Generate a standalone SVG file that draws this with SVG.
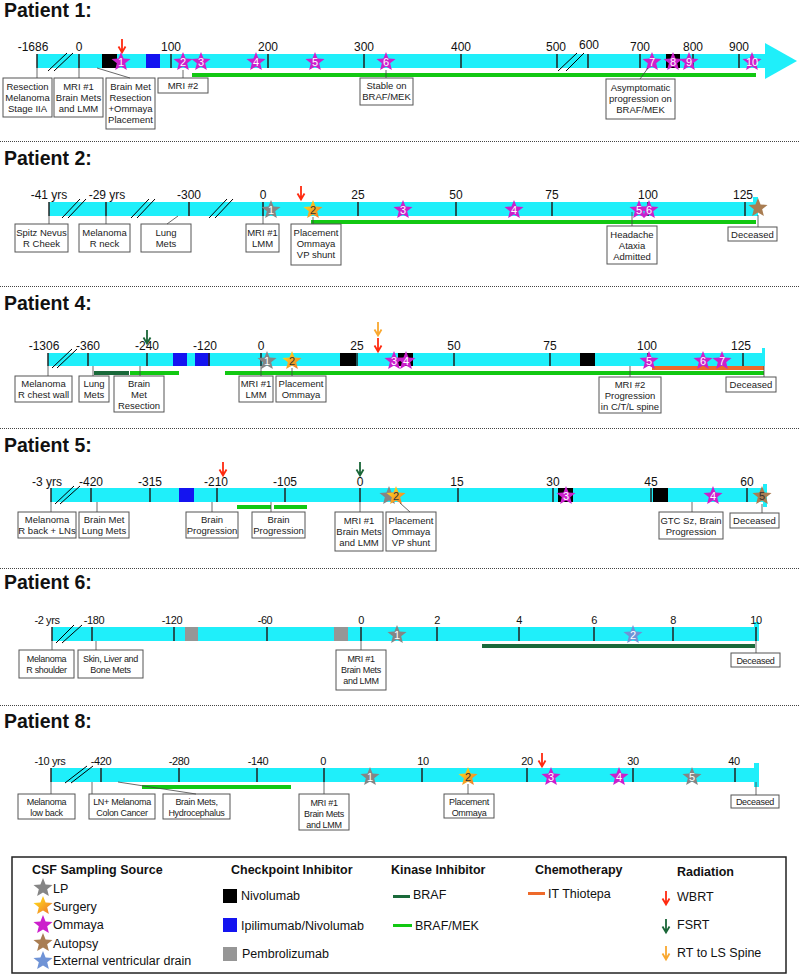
<svg xmlns="http://www.w3.org/2000/svg" width="800" height="974" viewBox="0 0 800 974">
<style>
text{font-family:"Liberation Sans",Arial,sans-serif;fill:#111}
.title{font-size:19.5px;font-weight:bold}
.tk{font-size:12px;text-anchor:middle}
.tkn{font-size:11px;text-anchor:middle;letter-spacing:-0.4px}
.lb{font-size:9.5px;text-anchor:middle;fill:#222}
.lbn{font-size:9px;text-anchor:middle;fill:#222;letter-spacing:-0.3px}
.box{fill:#fff;stroke:#555;stroke-width:1}
.bar{fill:#1FEFFA}
.tick{stroke:#222;stroke-width:1.5}
.con{stroke:#444;stroke-width:0.8;fill:none}
.brk{stroke:#000;stroke-width:1}
.sep{stroke:#444;stroke-width:1;stroke-dasharray:1 1}
.sn{font-size:11px;fill:#fff;text-anchor:middle}
.sO{fill:#CC1FCC}.sL{fill:#858585}.sA{fill:#A97D52}.sE{fill:#6F93D6}.sS{fill:url(#gS)}
.nivo{fill:#000}.ipi{fill:#1414F0}.pem{fill:#969696}
.braf{fill:#1A6A3A}.bm{fill:#12C812}.thio{fill:#EE6A2A}
.aR{stroke:#FF2A10}.aG{stroke:#1A6638}.aY{stroke:#F9A830}
.lh{font-size:12.5px;font-weight:bold}
.li{font-size:12.5px}
</style>
<defs>
<linearGradient id="gS" x1="0" y1="0" x2="1" y2="1">
<stop offset="0.2" stop-color="#FFD21A"/><stop offset="0.9" stop-color="#EE7A2C"/>
</linearGradient>
<path id="star" d="M0,-10 L2.59,-3.56 L9.51,-3.09 L4.18,1.36 L5.88,8.09 L0,4.4 L-5.88,8.09 L-4.18,1.36 L-9.51,-3.09 L-2.59,-3.56 Z"/>
<path id="arw" d="M0,0 V13 M-3.5,7.5 L0,13.5 L3.5,7.5" fill="none" stroke-width="1.8"/>
</defs>
<rect width="800" height="974" fill="#fff"/>

<g id="separators">
<line class="sep" x1="0" y1="141.5" x2="800" y2="141.5"/>
<line class="sep" x1="0" y1="286.5" x2="800" y2="286.5"/>
<line class="sep" x1="0" y1="428.5" x2="800" y2="428.5"/>
<line class="sep" x1="0" y1="568.5" x2="800" y2="568.5"/>
<line class="sep" x1="0" y1="705.5" x2="800" y2="705.5"/>
</g>

<!-- ================= PATIENT 1 ================= -->
<g id="patient1">
<text class="title" x="4" y="17">Patient 1:</text>
<rect class="bar" x="37" y="54" width="730" height="14"/>
<polygon class="bar" points="765,43 797,61 765,79"/>
<rect class="bm" x="192" y="73" width="564" height="4"/>
<rect class="nivo" x="102" y="54" width="15" height="14"/>
<rect class="ipi" x="146" y="54" width="14" height="14"/>
<rect class="nivo" x="666" y="54" width="14" height="14"/>
<g class="tick">
<line x1="37" y1="54" x2="37" y2="68"/><line x1="79" y1="54" x2="79" y2="68"/><line x1="171" y1="54" x2="171" y2="68"/><line x1="268" y1="54" x2="268" y2="68"/><line x1="364" y1="54" x2="364" y2="68"/><line x1="461" y1="54" x2="461" y2="68"/><line x1="557" y1="54" x2="557" y2="68"/><line x1="588" y1="54" x2="588" y2="68"/><line x1="640" y1="54" x2="640" y2="68"/><line x1="693" y1="54" x2="693" y2="68"/><line x1="739" y1="54" x2="739" y2="68"/>
</g>
<text class="tk" x="33" y="51">-1686</text><text class="tk" x="79" y="51">0</text><text class="tk" x="171" y="51">100</text><text class="tk" x="268" y="51">200</text><text class="tk" x="364" y="51">300</text><text class="tk" x="461" y="51">400</text><text class="tk" x="556" y="51">500</text><text class="tk" x="589" y="49">600</text><text class="tk" x="640" y="51">700</text><text class="tk" x="693" y="51">800</text><text class="tk" x="739" y="51">900</text>
<g class="brk">
<line x1="48" y1="71" x2="67" y2="53"/><line x1="54" y1="71" x2="73" y2="53"/>
<line x1="558" y1="71" x2="577" y2="53"/><line x1="566" y1="71" x2="584" y2="53"/>
</g>
<use href="#arw" class="aR" x="122" y="39"/>
</g>

<g id="p1-stars">
<use href="#star" class="sO" x="121" y="62"/><text class="sn" x="121" y="65.5">1</text>
<use href="#star" class="sO" x="183" y="62"/><text class="sn" x="183" y="65.5">2</text>
<use href="#star" class="sO" x="201" y="62"/><text class="sn" x="201" y="65.5">3</text>
<use href="#star" class="sO" x="256" y="62"/><text class="sn" x="256" y="65.5">4</text>
<use href="#star" class="sO" x="315" y="62"/><text class="sn" x="315" y="65.5">5</text>
<use href="#star" class="sO" x="386" y="62"/><text class="sn" x="386" y="65.5">6</text>
<use href="#star" class="sO" x="652" y="62"/><text class="sn" x="652" y="65.5">7</text>
<use href="#star" class="sO" x="673" y="62"/><text class="sn" x="673" y="65.5">8</text>
<use href="#star" class="sO" x="689" y="62"/><text class="sn" x="689" y="65.5">9</text>
<use href="#star" class="sO" x="752" y="62"/><text class="sn" x="752" y="65.5">10</text>
</g>

<g id="p1-resection"><rect class="box" x="3" y="78" width="49" height="39"/><text class="lb" x="27.5" y="89.5">Resection<tspan x="27.5" dy="11">Melanoma</tspan><tspan x="27.5" dy="11">Stage IIA</tspan></text></g>
<g id="p1-mri1"><rect class="box" x="54" y="78" width="49" height="39"/><text class="lb" x="78.5" y="89.5">MRI #1<tspan x="78.5" dy="11">Brain Mets</tspan><tspan x="78.5" dy="11">and LMM</tspan></text></g>
<g id="p1-brainmet"><rect class="box" x="106" y="78" width="49" height="51"/><text class="lb" x="130.5" y="90">Brain Met<tspan x="130.5" dy="11">Resection</tspan><tspan x="130.5" dy="11">+Ommaya</tspan><tspan x="130.5" dy="11">Placement</tspan></text></g>
<g id="p1-mri2"><rect class="box" x="158" y="78" width="50" height="15"/><text class="lb" x="183" y="88.5">MRI #2</text></g>
<g id="p1-stable"><rect class="box" x="360" y="78" width="53" height="27"/><text class="lb" x="386.5" y="89">Stable on<tspan x="386.5" dy="11">BRAF/MEK</tspan></text></g>
<g id="p1-asymp"><rect class="box" x="606" y="79" width="69" height="40"/><text class="lb" x="640.5" y="91">Asymptomatic<tspan x="640.5" dy="11">progression on</tspan><tspan x="640.5" dy="11">BRAF/MEK</tspan></text></g>

<!-- ================= PATIENT 2 ================= -->
<g id="patient2">
<text class="title" x="4" y="165">Patient 2:</text>
<rect class="bar" x="49" y="202" width="704" height="14"/>
<rect class="bar" x="753" y="197" width="5" height="19"/>
<rect class="bm" x="311" y="220" width="445" height="4"/>
<g class="tick">
<line x1="49" y1="202" x2="49" y2="216"/><line x1="106" y1="202" x2="106" y2="216"/><line x1="189" y1="202" x2="189" y2="216"/><line x1="263" y1="202" x2="263" y2="216"/><line x1="358" y1="202" x2="358" y2="216"/><line x1="456" y1="202" x2="456" y2="216"/><line x1="552" y1="202" x2="552" y2="216"/><line x1="648" y1="202" x2="648" y2="216"/><line x1="745" y1="202" x2="745" y2="216"/>
</g>
<text class="tk" x="49" y="199">-41 yrs</text><text class="tk" x="107" y="199">-29 yrs</text><text class="tk" x="189" y="199">-300</text><text class="tk" x="263" y="199">0</text><text class="tk" x="358" y="199">25</text><text class="tk" x="456" y="199">50</text><text class="tk" x="552" y="199">75</text><text class="tk" x="648" y="199">100</text><text class="tk" x="743" y="199">125</text>
<g class="brk">
<line x1="62" y1="218" x2="80" y2="199"/><line x1="68" y1="218" x2="86" y2="199"/>
<line x1="131" y1="218" x2="149" y2="199"/><line x1="137" y1="218" x2="155" y2="199"/>
<line x1="209" y1="218" x2="227" y2="199"/><line x1="215" y1="218" x2="233" y2="199"/>
</g>
<use href="#arw" class="aR" x="301" y="186"/>
</g>
<g id="p2-stars">
<use href="#star" class="sL" x="271" y="210"/><text class="sn" x="271" y="213.5">1</text>
<use href="#star" class="sS" x="313" y="210"/><text class="sn" x="313" y="213.5" style="fill:#333">2</text>
<use href="#star" class="sO" x="403" y="210"/><text class="sn" x="403" y="213.5">3</text>
<use href="#star" class="sO" x="514" y="210"/><text class="sn" x="514" y="213.5">4</text>
<use href="#star" class="sO" x="639" y="210"/><text class="sn" x="639" y="213.5">5</text>
<use href="#star" class="sO" x="649" y="210"/><text class="sn" x="649" y="213.5">6</text>
<use href="#star" class="sA" x="758" y="208"/>
</g>
<g id="p2-spitz"><rect class="box" x="15" y="224" width="53" height="28"/><text class="lb" x="41.5" y="235.5">Spitz Nevus<tspan x="41.5" dy="11">R Cheek</tspan></text></g>
<g id="p2-melanoma"><rect class="box" x="79" y="224" width="51" height="28"/><text class="lb" x="104.5" y="235.5">Melanoma<tspan x="104.5" dy="11">R neck</tspan></text></g>
<g id="p2-lung"><rect class="box" x="141" y="224" width="50" height="28"/><text class="lb" x="166" y="235.5">Lung<tspan x="166" dy="11">Mets</tspan></text></g>
<g id="p2-mri1"><rect class="box" x="246" y="224" width="33" height="28"/><text class="lb" x="262.5" y="235.5">MRI #1<tspan x="262.5" dy="11">LMM</tspan></text></g>
<g id="p2-placement"><rect class="box" x="291" y="224" width="50" height="41"/><text class="lb" x="316" y="236">Placement<tspan x="316" dy="11">Ommaya</tspan><tspan x="316" dy="11">VP shunt</tspan></text></g>
<g id="p2-headache"><rect class="box" x="607" y="226" width="50" height="38"/><text class="lb" x="632" y="237.5">Headache<tspan x="632" dy="11">Ataxia</tspan><tspan x="632" dy="11">Admitted</tspan></text></g>
<g id="p2-deceased"><rect class="box" x="728" y="227" width="49" height="14"/><text class="lb" x="752.5" y="237.5">Deceased</text></g>

<!-- ================= PATIENT 4 ================= -->
<g id="patient4">
<text class="title" x="4" y="310">Patient 4:</text>
<rect class="bar" x="48" y="353" width="714" height="13"/>
<rect class="bar" x="762" y="348" width="3" height="18"/>
<rect class="braf" x="94" y="371" width="35" height="4"/>
<rect class="bm" x="130" y="371" width="49" height="4"/>
<rect class="bm" x="225" y="371" width="539" height="4"/>
<rect class="thio" x="652" y="366" width="112" height="4"/>
<rect class="ipi" x="173" y="353" width="14" height="13"/>
<rect class="ipi" x="195" y="353" width="15" height="13"/>
<rect class="nivo" x="340" y="353" width="16" height="13"/>
<rect class="nivo" x="398" y="353" width="15" height="13"/>
<rect class="nivo" x="580" y="353" width="15" height="13"/>
<g class="tick">
<line x1="48" y1="353" x2="48" y2="366"/><line x1="88" y1="353" x2="88" y2="366"/><line x1="147" y1="353" x2="147" y2="366"/><line x1="209" y1="353" x2="209" y2="366"/><line x1="261" y1="353" x2="261" y2="366"/><line x1="357" y1="353" x2="357" y2="366"/><line x1="454" y1="353" x2="454" y2="366"/><line x1="550" y1="353" x2="550" y2="366"/><line x1="648" y1="353" x2="648" y2="366"/><line x1="743" y1="353" x2="743" y2="366"/>
</g>
<text class="tk" x="44" y="350">-1306</text><text class="tk" x="88" y="350">-360</text><text class="tk" x="147" y="350">-240</text><text class="tk" x="205" y="350">-120</text><text class="tk" x="261" y="350">0</text><text class="tk" x="357" y="350">25</text><text class="tk" x="454" y="350">50</text><text class="tk" x="550" y="350">75</text><text class="tk" x="647" y="350">100</text><text class="tk" x="741" y="350">125</text>
<g class="brk">
<line x1="52" y1="368" x2="72" y2="349"/><line x1="57" y1="368" x2="77" y2="349"/>
</g>
<use href="#arw" class="aG" x="147" y="330"/>
<use href="#arw" class="aY" x="378" y="322"/>
<use href="#arw" class="aR" x="378" y="338"/>
</g>
<g id="p4-stars">
<use href="#star" class="sL" x="267" y="361"/><text class="sn" x="267" y="364.5">1</text>
<use href="#star" class="sS" x="292" y="361"/><text class="sn" x="292" y="364.5" style="fill:#333">2</text>
<use href="#star" class="sO" x="394" y="361"/><text class="sn" x="394" y="364.5">3</text>
<use href="#star" class="sO" x="406" y="361"/><text class="sn" x="406" y="364.5">4</text>
<use href="#star" class="sO" x="649" y="361"/><text class="sn" x="649" y="364.5">5</text>
<use href="#star" class="sO" x="703" y="361"/><text class="sn" x="703" y="364.5">6</text>
<use href="#star" class="sO" x="722" y="361"/><text class="sn" x="722" y="364.5">7</text>
</g>
<g id="p4-melanoma"><rect class="box" x="15" y="376" width="57" height="26"/><text class="lb" x="43.5" y="387">Melanoma<tspan x="43.5" dy="11">R chest wall</tspan></text></g>
<g id="p4-lung"><rect class="box" x="79" y="376" width="30" height="26"/><text class="lb" x="94" y="387">Lung<tspan x="94" dy="11">Mets</tspan></text></g>
<g id="p4-brainmet"><rect class="box" x="114" y="376" width="50" height="36"/><text class="lb" x="139" y="387">Brain<tspan x="139" dy="11">Met</tspan><tspan x="139" dy="11">Resection</tspan></text></g>
<g id="p4-mri1"><rect class="box" x="239" y="376" width="34" height="26"/><text class="lb" x="256" y="387">MRI #1<tspan x="256" dy="11">LMM</tspan></text></g>
<g id="p4-placement"><rect class="box" x="276" y="376" width="50" height="26"/><text class="lb" x="301" y="387">Placement<tspan x="301" dy="11">Ommaya</tspan></text></g>
<g id="p4-mri2"><rect class="box" x="599" y="377" width="62" height="36"/><text class="lb" x="630" y="388">MRI #2<tspan x="630" dy="11">Progression</tspan><tspan x="630" dy="11">in C/T/L spine</tspan></text></g>
<g id="p4-deceased"><rect class="box" x="726" y="377" width="50" height="15"/><text class="lb" x="751" y="388">Deceased</text></g>

<!-- ================= PATIENT 5 ================= -->
<g id="patient5">
<text class="title" x="4" y="452">Patient 5:</text>
<rect class="bar" x="51" y="488" width="712" height="14"/>
<rect class="bar" x="763" y="484" width="4" height="23"/>
<rect class="bm" x="237" y="505" width="34" height="4"/>
<rect class="bm" x="274" y="505" width="33" height="4"/>
<rect class="ipi" x="179" y="488" width="15" height="14"/>
<rect class="nivo" x="558" y="488" width="15" height="14"/>
<rect class="nivo" x="653" y="488" width="15" height="14"/>
<g class="tick">
<line x1="51" y1="488" x2="51" y2="502"/><line x1="91" y1="488" x2="91" y2="502"/><line x1="150" y1="488" x2="150" y2="502"/><line x1="217" y1="488" x2="217" y2="502"/><line x1="285" y1="488" x2="285" y2="502"/><line x1="360" y1="488" x2="360" y2="502"/><line x1="458" y1="488" x2="458" y2="502"/><line x1="553" y1="488" x2="553" y2="502"/><line x1="651" y1="488" x2="651" y2="502"/><line x1="747" y1="488" x2="747" y2="502"/>
</g>
<text class="tk" x="47" y="486">-3 yrs</text><text class="tk" x="91" y="486">-420</text><text class="tk" x="150" y="486">-315</text><text class="tk" x="216" y="486">-210</text><text class="tk" x="285" y="486">-105</text><text class="tk" x="360" y="486">0</text><text class="tk" x="457" y="486">15</text><text class="tk" x="553" y="486">30</text><text class="tk" x="651" y="486">45</text><text class="tk" x="747" y="486">60</text>
<g class="brk">
<line x1="55" y1="504" x2="74" y2="486"/><line x1="60" y1="504" x2="80" y2="486"/>
</g>
<use href="#arw" class="aR" x="223" y="462"/>
<use href="#arw" class="aG" x="360" y="462"/>
</g>
<g id="p5-stars">
<use href="#star" class="sL" x="389" y="496"/>
<use href="#star" class="sS" x="396" y="496"/><text class="sn" x="396" y="499.5" style="fill:#333">2</text>
<use href="#star" class="sO" x="566" y="496"/><text class="sn" x="566" y="499.5">3</text>
<use href="#star" class="sO" x="713" y="496"/><text class="sn" x="713" y="499.5">4</text>
<use href="#star" class="sA" x="762" y="496"/><text class="sn" x="762" y="499.5" style="fill:#333">5</text>
</g>
<g id="p5-melanoma"><rect class="box" x="18" y="512" width="58" height="26"/><text class="lb" x="47" y="523">Melanoma<tspan x="47" dy="11">R back + LNs</tspan></text></g>
<g id="p5-brainmet"><rect class="box" x="79" y="512" width="50" height="26"/><text class="lb" x="104" y="523">Brain Met<tspan x="104" dy="11">Lung Mets</tspan></text></g>
<g id="p5-prog1"><rect class="box" x="186" y="512" width="52" height="26"/><text class="lb" x="212" y="523">Brain<tspan x="212" dy="11">Progression</tspan></text></g>
<g id="p5-prog2"><rect class="box" x="252" y="512" width="53" height="26"/><text class="lb" x="278.5" y="523">Brain<tspan x="278.5" dy="11">Progression</tspan></text></g>
<g id="p5-mri1"><rect class="box" x="335" y="512" width="48" height="39"/><text class="lb" x="359" y="523.5">MRI #1<tspan x="359" dy="11">Brain Mets</tspan><tspan x="359" dy="11">and LMM</tspan></text></g>
<g id="p5-placement"><rect class="box" x="386" y="512" width="50" height="39"/><text class="lb" x="411" y="523.5">Placement<tspan x="411" dy="11">Ommaya</tspan><tspan x="411" dy="11">VP shunt</tspan></text></g>
<g id="p5-gtc"><rect class="box" x="659" y="512" width="64" height="27"/><text class="lb" x="691" y="523.5">GTC Sz, Brain<tspan x="691" dy="11">Progression</tspan></text></g>
<g id="p5-deceased"><rect class="box" x="730" y="513" width="49" height="15"/><text class="lb" x="754.5" y="523.5">Deceased</text></g>

<!-- ================= PATIENT 6 ================= -->
<g id="patient6">
<text class="title" x="4" y="589">Patient 6:</text>
<rect class="bar" x="52" y="627" width="704" height="14"/>
<rect class="bar" x="754" y="622" width="5" height="19"/>
<rect class="braf" x="482" y="644" width="273" height="4"/>
<rect class="pem" x="185" y="627" width="13" height="14"/>
<rect class="pem" x="334" y="627" width="14" height="14"/>
<g class="tick">
<line x1="52" y1="627" x2="52" y2="641"/><line x1="92" y1="627" x2="92" y2="641"/><line x1="174" y1="627" x2="174" y2="641"/><line x1="267" y1="627" x2="267" y2="641"/><line x1="361" y1="627" x2="361" y2="641"/><line x1="437" y1="627" x2="437" y2="641"/><line x1="519" y1="627" x2="519" y2="641"/><line x1="594" y1="627" x2="594" y2="641"/><line x1="673" y1="627" x2="673" y2="641"/><line x1="756" y1="627" x2="756" y2="641"/>
</g>
<text class="tkn" x="47" y="624">-2 yrs</text><text class="tkn" x="94" y="624">-180</text><text class="tkn" x="172" y="624">-120</text><text class="tkn" x="265" y="624">-60</text><text class="tkn" x="361" y="624">0</text><text class="tkn" x="437" y="624">2</text><text class="tkn" x="519" y="624">4</text><text class="tkn" x="594" y="624">6</text><text class="tkn" x="673" y="624">8</text><text class="tkn" x="756" y="624">10</text>
<g class="brk">
<line x1="56" y1="643" x2="74" y2="625"/><line x1="62" y1="643" x2="82" y2="625"/>
</g>
</g>
<g id="p6-stars">
<use href="#star" class="sL" x="397" y="635"/><text class="sn" x="397" y="638.5">1</text>
<use href="#star" class="sE" x="633" y="635"/><text class="sn" x="633" y="638.5">2</text>
</g>
<g id="p6-melanoma"><rect class="box" x="19" y="650" width="55" height="28"/><text class="lbn" x="46.5" y="661.5">Melanoma<tspan x="46.5" dy="11">R shoulder</tspan></text></g>
<g id="p6-skin"><rect class="box" x="78" y="650" width="65" height="28"/><text class="lbn" x="110.5" y="661.5">Skin, Liver and<tspan x="110.5" dy="11">Bone Mets</tspan></text></g>
<g id="p6-mri1"><rect class="box" x="336" y="650" width="50" height="40"/><text class="lbn" x="361" y="662">MRI #1<tspan x="361" dy="11">Brain Mets</tspan><tspan x="361" dy="11">and LMM</tspan></text></g>
<g id="p6-deceased"><rect class="box" x="731" y="653" width="49" height="14"/><text class="lbn" x="755.5" y="663.5">Deceased</text></g>

<!-- ================= PATIENT 8 ================= -->
<g id="patient8">
<text class="title" x="4" y="728">Patient 8:</text>
<rect class="bar" x="51" y="768" width="704" height="14"/>
<rect class="bar" x="754" y="763" width="5" height="24"/>
<rect class="bm" x="142" y="785" width="149" height="4"/>
<g class="tick">
<line x1="51" y1="768" x2="51" y2="782"/><line x1="101" y1="768" x2="101" y2="782"/><line x1="179" y1="768" x2="179" y2="782"/><line x1="257" y1="768" x2="257" y2="782"/><line x1="324" y1="768" x2="324" y2="782"/><line x1="422" y1="768" x2="422" y2="782"/><line x1="527" y1="768" x2="527" y2="782"/><line x1="633" y1="768" x2="633" y2="782"/><line x1="735" y1="768" x2="735" y2="782"/>
</g>
<text class="tkn" x="50" y="765">-10 yrs</text><text class="tkn" x="101" y="765">-420</text><text class="tkn" x="179" y="765">-280</text><text class="tkn" x="258" y="765">-140</text><text class="tkn" x="323" y="765">0</text><text class="tkn" x="423" y="765">10</text><text class="tkn" x="527" y="765">20</text><text class="tkn" x="633" y="765">30</text><text class="tkn" x="734" y="765">40</text>
<g class="brk">
<line x1="65" y1="783" x2="87" y2="766"/><line x1="71" y1="783" x2="93" y2="766"/>
</g>
<use href="#arw" class="aR" x="542" y="753"/>
</g>
<g id="p8-stars">
<use href="#star" class="sL" x="370" y="777"/><text class="sn" x="370" y="780.5">1</text>
<use href="#star" class="sS" x="468" y="777"/><text class="sn" x="468" y="780.5" style="fill:#333">2</text>
<use href="#star" class="sO" x="551" y="777"/><text class="sn" x="551" y="780.5">3</text>
<use href="#star" class="sO" x="619" y="777"/><text class="sn" x="619" y="780.5">4</text>
<use href="#star" class="sL" x="692" y="777"/><text class="sn" x="692" y="780.5">5</text>
</g>
<g id="p8-melanoma"><rect class="box" x="18" y="794" width="57" height="25"/><text class="lbn" x="46.5" y="805">Melanoma<tspan x="46.5" dy="11">low back</tspan></text></g>
<g id="p8-ln"><rect class="box" x="89" y="794" width="66" height="25"/><text class="lbn" x="122" y="805">LN+ Melanoma<tspan x="122" dy="11">Colon Cancer</tspan></text></g>
<g id="p8-brainmets"><rect class="box" x="163" y="794" width="67" height="25"/><text class="lbn" x="196.5" y="805">Brain Mets,<tspan x="196.5" dy="11">Hydrocephalus</tspan></text></g>
<g id="p8-mri1"><rect class="box" x="299" y="794" width="50" height="36"/><text class="lbn" x="324" y="806">MRI #1<tspan x="324" dy="11">Brain Mets</tspan><tspan x="324" dy="11">and LMM</tspan></text></g>
<g id="p8-placement"><rect class="box" x="444" y="794" width="50" height="24"/><text class="lbn" x="469" y="804.5">Placement<tspan x="469" dy="11">Ommaya</tspan></text></g>
<g id="p8-deceased"><rect class="box" x="731" y="795" width="48" height="13"/><text class="lbn" x="755" y="805">Deceased</text></g>

<!-- ================= CONNECTORS ================= -->
<g id="connectors" class="con">
<line x1="37" y1="68" x2="37" y2="78"/>
<line x1="79" y1="68" x2="79" y2="78"/>
<line x1="97" y1="68" x2="130" y2="78"/>
<line x1="183" y1="70" x2="183" y2="78"/>
<line x1="386" y1="70" x2="386" y2="78"/>
<line x1="648" y1="68" x2="640" y2="79"/>

<line x1="49" y1="216" x2="49" y2="224"/>
<line x1="106" y1="216" x2="106" y2="224"/>
<line x1="178" y1="216" x2="167" y2="224"/>
<line x1="263" y1="216" x2="263" y2="224"/>
<line x1="313" y1="217" x2="313" y2="224"/>
<line x1="632" y1="212" x2="632" y2="226"/>
<line x1="758" y1="215" x2="758" y2="227"/>

<line x1="48" y1="366" x2="48" y2="376"/>
<line x1="93" y1="366" x2="93" y2="376"/>
<line x1="140" y1="366" x2="140" y2="376"/>
<line x1="261" y1="366" x2="261" y2="376"/>
<line x1="292" y1="368" x2="292" y2="376"/>
<line x1="630" y1="366" x2="630" y2="377"/>
<line x1="764" y1="366" x2="764" y2="377"/>

<line x1="51" y1="502" x2="51" y2="512"/>
<line x1="97" y1="502" x2="97" y2="512"/>
<line x1="212" y1="502" x2="212" y2="512"/>
<line x1="271" y1="502" x2="271" y2="512"/>
<line x1="360" y1="502" x2="360" y2="512"/>
<line x1="400" y1="503" x2="410" y2="512"/>
<line x1="692" y1="502" x2="692" y2="512"/>
<line x1="762" y1="504" x2="762" y2="513"/>

<line x1="52" y1="641" x2="52" y2="650"/>
<line x1="96" y1="641" x2="96" y2="650"/>
<line x1="361" y1="641" x2="361" y2="650"/>
<line x1="756" y1="641" x2="756" y2="653"/>

<line x1="51" y1="782" x2="51" y2="794"/>
<line x1="92" y1="782" x2="92" y2="794"/>
<line x1="118" y1="782" x2="196" y2="794"/>
<line x1="324" y1="782" x2="324" y2="794"/>
<line x1="468" y1="784" x2="468" y2="794"/>
<line x1="756" y1="782" x2="756" y2="795"/>
</g>

<!-- ================= LEGEND ================= -->
<g id="legend">
<rect x="12" y="857" width="774" height="116" fill="#fff" stroke="#222" stroke-width="1.5"/>
<text class="lh" x="32" y="874">CSF Sampling Source</text>
<use href="#star" class="sL" x="43" y="888"/><text class="li" x="53" y="893">LP</text>
<use href="#star" class="sS" x="43" y="906"/><text class="li" x="53" y="911">Surgery</text>
<use href="#star" class="sO" x="43" y="925"/><text class="li" x="53" y="929">Ommaya</text>
<use href="#star" class="sA" x="43" y="943"/><text class="li" x="53" y="948">Autopsy</text>
<use href="#star" class="sE" x="43" y="961"/><text class="li" x="53" y="965">External ventricular drain</text>

<text class="lh" x="231" y="874">Checkpoint Inhibitor</text>
<rect class="nivo" x="223" y="889" width="14" height="14"/><text class="li" x="241" y="900">Nivolumab</text>
<rect class="ipi" x="223" y="918" width="14" height="14"/><text class="li" x="241" y="930">Ipilimumab/Nivolumab</text>
<rect class="pem" x="223" y="947" width="14" height="14"/><text class="li" x="242" y="958">Pembrolizumab</text>

<text class="lh" x="391" y="874">Kinase Inhibitor</text>
<rect class="braf" x="393" y="895" width="17" height="3"/><text class="li" x="413" y="899">BRAF</text>
<rect class="bm" x="393" y="924" width="19" height="3"/><text class="li" x="415" y="930">BRAF/MEK</text>

<text class="lh" x="535" y="874">Chemotherapy</text>
<rect class="thio" x="528" y="892" width="17" height="3"/><text class="li" x="548" y="898">IT Thiotepa</text>

<text class="lh" x="677" y="876">Radiation</text>
<use href="#arw" class="aR" x="666" y="891"/><text class="li" x="677" y="901">WBRT</text>
<use href="#arw" class="aG" x="666" y="919"/><text class="li" x="677" y="929">FSRT</text>
<use href="#arw" class="aY" x="666" y="946"/><text class="li" x="677" y="957">RT to LS Spine</text>
</g>
</svg>
